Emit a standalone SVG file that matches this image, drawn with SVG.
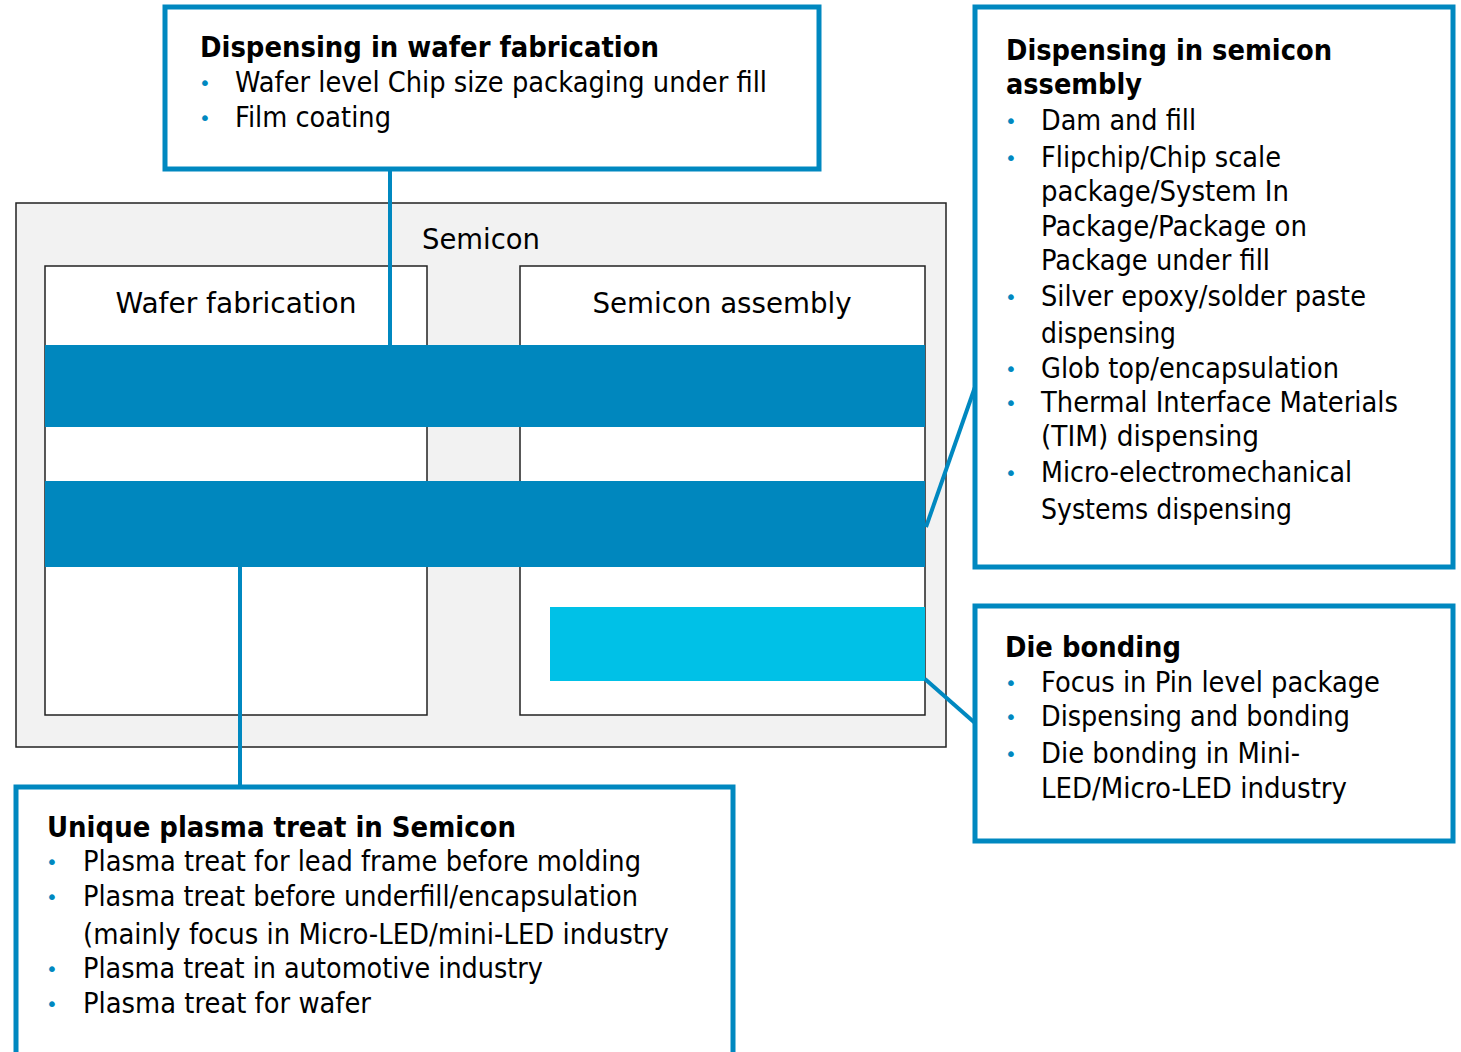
<svg xmlns="http://www.w3.org/2000/svg" width="1461" height="1052" viewBox="0 0 1461 1052">
<style>
text{font-family:"DejaVu Sans","Liberation Sans",sans-serif;font-size:28px;fill:#000}
.b{font-weight:bold}
.bul{fill:#0088c0;font-size:20px}
.callout{fill:#fff;stroke:#0088c0;stroke-width:5}
.frame{stroke:#222;stroke-width:1.5}
.bar{fill:#0087be}
.conn{stroke:#0088c0;stroke-width:4;fill:none}
</style>
<rect width="1461" height="1052" fill="#fff"/>
<g id="semicon">
<rect x="16" y="203" width="930" height="544" fill="#f2f2f2" class="frame"/>
<text x="481" y="249" text-anchor="middle" textLength="118" lengthAdjust="spacingAndGlyphs">Semicon</text>
</g>
<g id="wafer-fabrication">
<rect x="45" y="266" width="382" height="449" fill="#fff" class="frame"/>
<text x="236" y="313" text-anchor="middle" textLength="241" lengthAdjust="spacingAndGlyphs">Wafer fabrication</text>
</g>
<g id="semicon-assembly">
<rect x="520" y="266" width="405" height="449" fill="#fff" class="frame"/>
<text x="722" y="313" text-anchor="middle" textLength="259" lengthAdjust="spacingAndGlyphs">Semicon assembly</text>
</g>
<g id="bars">
<rect class="bar" x="45" y="345" width="880" height="82"/>
<rect class="bar" x="45" y="481" width="880" height="86"/>
<rect x="550" y="607" width="375" height="74" fill="#00c1e7"/>
</g>
<g id="connectors">
<line class="conn" x1="390" y1="169" x2="390" y2="345"/>
<line class="conn" x1="240" y1="567" x2="240" y2="787"/>
<line class="conn" x1="926" y1="527" x2="975" y2="387"/>
<line class="conn" x1="925" y1="679" x2="975" y2="723"/>
</g>
<g id="wafer-dispensing">
<rect class="callout" x="165" y="7" width="654" height="162"/>
<text class="b" x="200" y="57" textLength="459" lengthAdjust="spacingAndGlyphs">Dispensing in wafer fabrication</text>
<text class="bul" x="199" y="90">•</text>
<text x="235" y="92" textLength="532" lengthAdjust="spacingAndGlyphs">Wafer level Chip size packaging under fill</text>
<text class="bul" x="199" y="125">•</text>
<text x="235" y="127" textLength="156" lengthAdjust="spacingAndGlyphs">Film coating</text>
</g>
<g id="assembly-dispensing">
<rect class="callout" x="975" y="7" width="478" height="560"/>
<text class="b" x="1006" y="60" textLength="326" lengthAdjust="spacingAndGlyphs">Dispensing in semicon</text>
<text class="b" x="1006" y="94" textLength="136" lengthAdjust="spacingAndGlyphs">assembly</text>
<text class="bul" x="1005" y="128">•</text>
<text x="1041" y="130" textLength="155" lengthAdjust="spacingAndGlyphs">Dam and fill</text>
<text class="bul" x="1005" y="165">•</text>
<text x="1041" y="167" textLength="240" lengthAdjust="spacingAndGlyphs">Flipchip/Chip scale</text>
<text x="1041" y="201" textLength="248" lengthAdjust="spacingAndGlyphs">package/System In</text>
<text x="1041" y="236" textLength="266" lengthAdjust="spacingAndGlyphs">Package/Package on</text>
<text x="1041" y="270" textLength="229" lengthAdjust="spacingAndGlyphs">Package under fill</text>
<text class="bul" x="1005" y="304">•</text>
<text x="1041" y="306" textLength="325" lengthAdjust="spacingAndGlyphs">Silver epoxy/solder paste</text>
<text x="1041" y="343" textLength="135" lengthAdjust="spacingAndGlyphs">dispensing</text>
<text class="bul" x="1005" y="376">•</text>
<text x="1041" y="378" textLength="298" lengthAdjust="spacingAndGlyphs">Glob top/encapsulation</text>
<text class="bul" x="1005" y="410">•</text>
<text x="1041" y="412" textLength="357" lengthAdjust="spacingAndGlyphs">Thermal Interface Materials</text>
<text x="1041" y="446" textLength="218" lengthAdjust="spacingAndGlyphs">(TIM) dispensing</text>
<text class="bul" x="1005" y="480">•</text>
<text x="1041" y="482" textLength="311" lengthAdjust="spacingAndGlyphs">Micro-electromechanical</text>
<text x="1041" y="519" textLength="251" lengthAdjust="spacingAndGlyphs">Systems dispensing</text>
</g>
<g id="die-bonding">
<rect class="callout" x="975" y="606" width="478" height="235"/>
<text class="b" x="1005" y="657" textLength="176" lengthAdjust="spacingAndGlyphs">Die bonding</text>
<text class="bul" x="1005" y="690">•</text>
<text x="1041" y="692" textLength="339" lengthAdjust="spacingAndGlyphs">Focus in Pin level package</text>
<text class="bul" x="1005" y="724">•</text>
<text x="1041" y="726" textLength="309" lengthAdjust="spacingAndGlyphs">Dispensing and bonding</text>
<text class="bul" x="1005" y="761">•</text>
<text x="1041" y="763" textLength="259" lengthAdjust="spacingAndGlyphs">Die bonding in Mini-</text>
<text x="1041" y="798" textLength="306" lengthAdjust="spacingAndGlyphs">LED/Micro-LED industry</text>
</g>
<g id="plasma">
<rect class="callout" x="16" y="787" width="717" height="280"/>
<text class="b" x="47" y="837" textLength="469" lengthAdjust="spacingAndGlyphs">Unique plasma treat in Semicon</text>
<text class="bul" x="46" y="869">•</text>
<text x="83" y="871" textLength="558" lengthAdjust="spacingAndGlyphs">Plasma treat for lead frame before molding</text>
<text class="bul" x="46" y="904">•</text>
<text x="83" y="906" textLength="555" lengthAdjust="spacingAndGlyphs">Plasma treat before underfill/encapsulation</text>
<text x="83" y="944" textLength="586" lengthAdjust="spacingAndGlyphs">(mainly focus in Micro-LED/mini-LED industry</text>
<text class="bul" x="46" y="976">•</text>
<text x="83" y="978" textLength="460" lengthAdjust="spacingAndGlyphs">Plasma treat in automotive industry</text>
<text class="bul" x="46" y="1011">•</text>
<text x="83" y="1013" textLength="288" lengthAdjust="spacingAndGlyphs">Plasma treat for wafer</text>
</g>
</svg>
